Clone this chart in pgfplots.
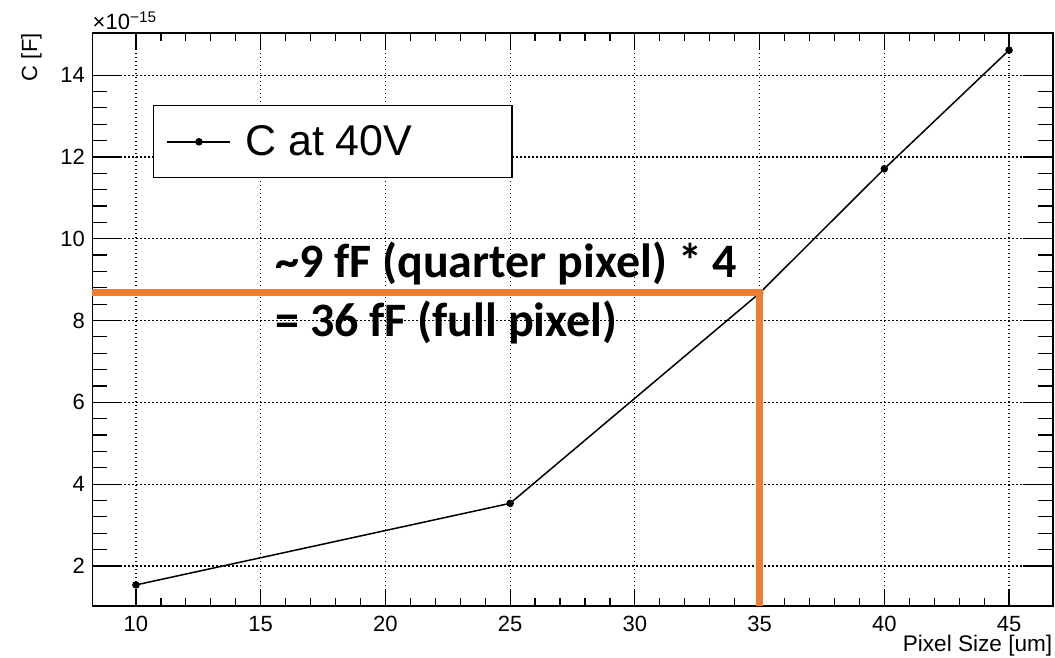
\documentclass[border=0pt]{standalone}
\usepackage{fontspec}
\setmainfont{Liberation Sans}
\newfontfamily\carlito{Carlito}
\usepackage{pgfplots}
\pgfplotsset{compat=1.18}
\definecolor{annot}{RGB}{237,125,49}

\begin{document}
\begin{tikzpicture}
\begin{axis}[
  name=ax,
  set layers,
  at={(46.15pt,26pt)}, anchor=south west,
  scale only axis, width=480.2pt, height=286.5pt,
  xmin=8.25, xmax=46.75, ymin=1.02, ymax=15.03,
  xtick={10,15,...,45}, ytick={2,4,...,14},
  minor x tick num=4, minor y tick num=4,
  tick align=inside,
  axis line style={line width=0.8pt},
  every tick/.style={black, line width=0.6pt},
  xtick style={/pgfplots/major tick length=8.5pt, /pgfplots/minor tick length=4pt},
  ytick style={/pgfplots/major tick length=15pt, /pgfplots/minor tick length=7.5pt},
  grid=major,
  major grid style={black, line width=0.6pt, dash pattern=on 0.6pt off 1.4pt},
  ticklabel style={font=\fontsize{11}{11}\selectfont},
  /pgf/number format/assume math mode=true,
  xticklabel style={inner sep=0pt, anchor=north, yshift=-5pt},
  yticklabel style={inner sep=0pt, anchor=east, xshift=-3.5pt},
  legend image code/.code={\draw[mark repeat=2,mark phase=2] plot coordinates {(0pt,0pt) (15.75pt,0pt) (31.5pt,0pt)};},
  legend style={at={(0.0629,0.874)}, anchor=north west, draw=black, line width=0.6pt, fill=white,
    inner xsep=6.7pt, inner ysep=0pt, column sep=0pt,
    font=\fontsize{21.5}{21.5}\selectfont,
    nodes={inner xsep=0pt, inner ysep=0pt, minimum height=36pt}},
  legend cell align=left,
]
% measured capacitance at 40 V (in units of 1e-15 F)
\addplot[black, line width=0.75pt, mark=*, mark size=1.5pt, mark options={solid, fill=black}]
  coordinates {(10,1.535) (25,3.53) (35,8.67) (40,11.71) (45,14.61)};
\addlegendentry{\hspace{7pt}\makebox[126.65pt][l]{C at 40V}}

% read-off guide at 35 um, drawn above the curve
\addplot[annot, line width=3.3pt, line join=miter, forget plot, on layer=axis foreground]
  coordinates {(8.25,8.69) (35,8.69) (35,1.02)};

\node[anchor=base west, inner sep=0pt, font=\carlito\bfseries\fontsize{24}{24}\selectfont]
  at (axis cs:15.57,9.04) {\textasciitilde9 fF (quarter pixel) * 4};
\node[anchor=base west, inner sep=0pt, font=\carlito\bfseries\fontsize{24}{24}\selectfont]
  at (axis cs:15.57,7.61) {= 36 fF (full pixel)};
\end{axis}

% axis titles and exponent
\node[anchor=base east, inner sep=0pt, font=\fontsize{11.3}{11.3}\selectfont]
  at ([yshift=-23pt]ax.south east) {Pixel Size [um]};
\node[rotate=90, anchor=base east, inner sep=0pt, font=\fontsize{11}{11}\selectfont]
  at ([xshift=-27.6pt]ax.north west) {C [F]};
\node[anchor=base west, inner sep=0pt, font=\fontsize{11}{11}\selectfont]
  at ([yshift=1.5pt]ax.north west) {×10\textsuperscript{−15}};

% fixed page extent
\pgfresetboundingbox
\path[use as bounding box] (0,0) rectangle (527.5pt,329pt);
\end{tikzpicture}
\end{document}
